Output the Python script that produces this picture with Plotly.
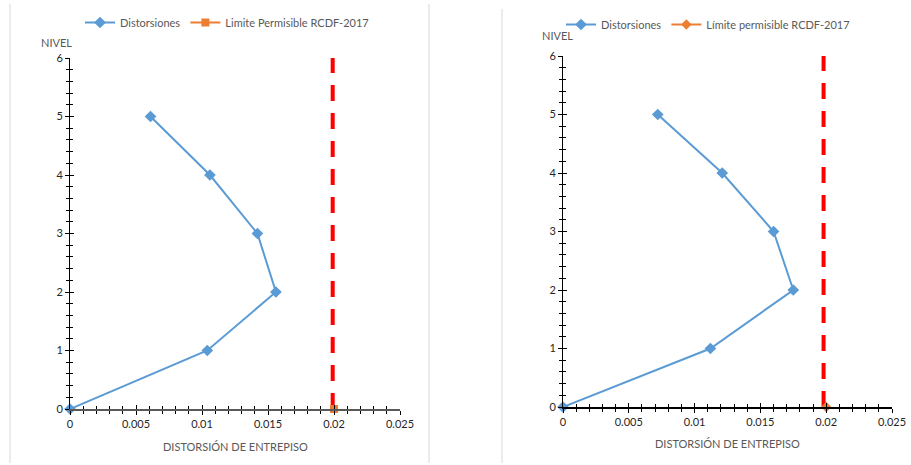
import plotly.graph_objects as go

# ---------------- data ----------------
niveles = [0, 1, 2, 3, 4, 5]
dist_izq = [0.0, 0.0104, 0.0156, 0.0142, 0.0106, 0.0061]
dist_der = [0.0, 0.0112, 0.0175, 0.0160, 0.0121, 0.0072]

limite_x = [0.02]
limite_y = [0]

roja_izq_x = [0.0199, 0.0199]
roja_der_x = [0.0198, 0.0198]
roja_y = [0, 6]

x_ticks = [0, 0.005, 0.01, 0.015, 0.02, 0.025]
x_tick_labels = ["0", "0.005", "0.01", "0.015", "0.02", "0.025"]
y_ticks = [0, 1, 2, 3, 4, 5, 6]
y_tick_labels = ["0", "1", "2", "3", "4", "5", "6"]

nombre_serie = "Distorsiones"
nombre_lim_izq = "Limite Permisible RCDF-2017"
nombre_lim_der = "Límite permisible RCDF-2017"
titulo_y = "NIVEL"
titulo_x = "DISTORSIÓN DE ENTREPISO"

# ---------------- style ----------------
W, H = 911, 465
FONT = "Lato"
AZUL = "#5B9BD5"
NARANJA = "#ED7D31"
ROJO = "#FF0000"
GRIS = "#595959"

fig = go.Figure()

# Left chart
fig.add_trace(go.Scatter(x=roja_izq_x, y=roja_y, mode="lines", showlegend=False,
                         line=dict(color=ROJO, width=4, dash="16px,12px"),
                         xaxis="x", yaxis="y", hoverinfo="skip"))
fig.add_trace(go.Scatter(x=dist_izq, y=niveles, name=nombre_serie, mode="lines+markers",
                         line=dict(color=AZUL, width=2),
                         marker=dict(symbol="diamond", size=9, color=AZUL),
                         cliponaxis=False, xaxis="x", yaxis="y", legend="legend"))
fig.add_trace(go.Scatter(x=limite_x, y=limite_y, name=nombre_lim_izq, mode="lines+markers",
                         line=dict(color=NARANJA, width=2),
                         marker=dict(symbol="square", size=8, color=NARANJA),
                         cliponaxis=False, xaxis="x", yaxis="y", legend="legend"))

# Right chart
fig.add_trace(go.Scatter(x=roja_der_x, y=roja_y, mode="lines", showlegend=False,
                         line=dict(color=ROJO, width=4, dash="16px,12px"),
                         xaxis="x2", yaxis="y2", hoverinfo="skip"))
fig.add_trace(go.Scatter(x=dist_der, y=niveles, name=nombre_serie, mode="lines+markers",
                         line=dict(color=AZUL, width=2),
                         marker=dict(symbol="diamond", size=9, color=AZUL),
                         cliponaxis=False, xaxis="x2", yaxis="y2", legend="legend2"))
fig.add_trace(go.Scatter(x=limite_x, y=limite_y, name=nombre_lim_der, mode="lines+markers",
                         line=dict(color=NARANJA, width=2),
                         marker=dict(symbol="diamond", size=8, color=NARANJA),
                         cliponaxis=False, xaxis="x2", yaxis="y2", legend="legend2"))

# dummy traces for overlay axes (inside half of crossing ticks)
for xa, ya in (("x3", "y3"), ("x4", "y4")):
    fig.add_trace(go.Scatter(x=[], y=[], showlegend=False, xaxis=xa, yaxis=ya, hoverinfo="skip"))

tickfont = dict(family=FONT, size=11, color="#262626")


def xax(domain, anchor, inside=False, overlay=None, linecolor="#000000"):
    d = dict(domain=domain, anchor=anchor, range=[0, 0.025], tickvals=x_ticks,
             ticktext=x_tick_labels, showgrid=False, zeroline=False,
             ticks="inside" if inside else "outside", ticklen=4, tickwidth=1, tickcolor="#000000",
             minor=dict(dtick=0.001, tick0=0, ticks="inside" if inside else "outside",
                        ticklen=3, tickwidth=1, tickcolor="#000000", showgrid=False),
             showticklabels=not inside, tickfont=tickfont, fixedrange=True, automargin=False)
    if inside:
        d["overlaying"] = overlay
        d["showline"] = False
    else:
        d["showline"] = True
        d["linecolor"] = linecolor
        d["linewidth"] = 1.5
    return d


def yax(domain, anchor, inside=False, overlay=None):
    d = dict(domain=domain, anchor=anchor, range=[0, 6], tickvals=y_ticks,
             ticktext=y_tick_labels, showgrid=False, zeroline=False,
             ticks="inside" if inside else "outside", ticklen=4, tickwidth=1, tickcolor="#000000",
             minor=dict(dtick=0.2, tick0=0, ticks="inside" if inside else "outside",
                        ticklen=3, tickwidth=1, tickcolor="#000000", showgrid=False),
             showticklabels=not inside, tickfont=tickfont, side="left", fixedrange=True,
             automargin=False)
    if inside:
        d["overlaying"] = overlay
        d["showline"] = False
    else:
        d["showline"] = True
        d["linecolor"] = "#000000"
        d["linewidth"] = 1
    return d


dx1 = [70 / W, 400 / W]
dy1 = [(H - 409) / H, (H - 58) / H]
dx2 = [563 / W, 892 / W]
dy2 = [(H - 407) / H, (H - 56) / H]

legfont = dict(family=FONT, size=11, color=GRIS)
axtitlefont = dict(family=FONT, size=11, color=GRIS)

fig.update_layout(
    width=W, height=H,
    margin=dict(l=0, r=0, t=0, b=0, pad=0, autoexpand=False),
    paper_bgcolor="white", plot_bgcolor="rgba(0,0,0,0)",
    font=dict(family=FONT, size=11, color=GRIS),
    xaxis=xax(dx1, "y", linecolor="#595959"),
    yaxis=yax(dy1, "x"),
    xaxis2=xax(dx2, "y2", linecolor="#000000"),
    yaxis2=yax(dy2, "x2"),
    xaxis3=xax(dx1, "y", inside=True, overlay="x"),
    yaxis3=yax(dy1, "x", inside=True, overlay="y"),
    xaxis4=xax(dx2, "y2", inside=True, overlay="x2"),
    yaxis4=yax(dy2, "x2", inside=True, overlay="y2"),
    legend=dict(orientation="h", x=80 / W, y=1 - 8 / H, xanchor="left", yanchor="top",
                font=legfont, bgcolor="rgba(0,0,0,0)", itemwidth=30, tracegroupgap=0),
    legend2=dict(orientation="h", x=561 / W, y=1 - 10 / H, xanchor="left", yanchor="top",
                 font=legfont, bgcolor="rgba(0,0,0,0)", itemwidth=30, tracegroupgap=0),
    annotations=[
        dict(text=titulo_y, x=56 / W, y=1 - 42 / H, xref="paper", yref="paper",
             xanchor="center", yanchor="middle", showarrow=False, font=axtitlefont),
        dict(text=titulo_x, x=(dx1[0] + dx1[1]) / 2, y=1 - 446 / H, xref="paper", yref="paper",
             xanchor="center", yanchor="middle", showarrow=False, font=axtitlefont),
        dict(text=titulo_y, x=557 / W, y=1 - 36 / H, xref="paper", yref="paper",
             xanchor="center", yanchor="middle", showarrow=False, font=axtitlefont),
        dict(text=titulo_x, x=(dx2[0] + dx2[1]) / 2, y=1 - 443 / H, xref="paper", yref="paper",
             xanchor="center", yanchor="middle", showarrow=False, font=axtitlefont),
    ],
    shapes=[
        dict(type="line", xref="paper", yref="paper", x0=10 / W, x1=10 / W, y0=1 - 463 / H, y1=1 - 4 / H,
             line=dict(color="#D9D9D9", width=1)),
        dict(type="line", xref="paper", yref="paper", x0=429 / W, x1=429 / W, y0=1 - 463 / H, y1=1 - 4 / H,
             line=dict(color="#D9D9D9", width=1)),
        dict(type="line", xref="paper", yref="paper", x0=502 / W, x1=502 / W, y0=1 - 463 / H, y1=1 - 9 / H,
             line=dict(color="#D9D9D9", width=1)),
    ],
    showlegend=True,
)

fig.write_html("out.html", config={"displayModeBar": False},
               post_script="document.body.style.margin='0px';document.body.style.padding='0px';")
